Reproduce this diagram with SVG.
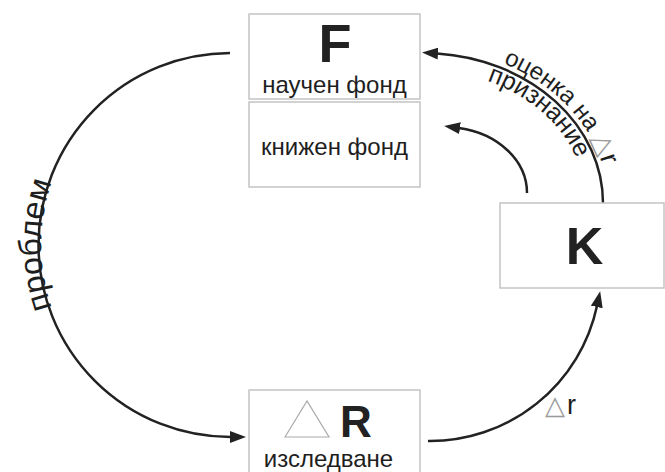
<svg xmlns="http://www.w3.org/2000/svg" width="665" height="472" viewBox="0 0 665 472">
<defs>
<style>
.box{fill:#fff;stroke:#c4c4c4;stroke-width:1.5}
.lbl{font-family:"Liberation Sans",Arial,sans-serif;fill:#1e1e1e;font-size:24px}
.big{font-family:"Liberation Sans",Arial,sans-serif;fill:#222;font-weight:bold}
.arc{fill:none;stroke:#222;stroke-width:2.5}
.tri{font-family:"DejaVu Sans",sans-serif;fill:#9a9a9a}
</style>
<marker id="ah" markerUnits="userSpaceOnUse" viewBox="0 0 16 12" markerWidth="16" markerHeight="12" refX="1" refY="6" orient="auto">
<path d="M0,0 L16,6 L0,12 z" fill="#222"/>
</marker>
<path id="pOuter" d="M423,48 A185,155 0 0 1 608,203"/>
<path id="pInner" d="M423,70 A163,133 0 0 1 586,203"/>
<path id="pLeft" d="M230,434 A189,189 0 0 1 230,56"/>
</defs>
<rect width="665" height="472" fill="#fff"/>
<g id="connectors">
<path class="arc" d="M230,53 A192,192 0 0 0 231,437" marker-end="url(#ah)"/>
<path class="arc" d="M603,203 A180,150 0 0 0 437,53.5" marker-end="url(#ah)"/>
<path class="arc" d="M527,193 A82,66 0 0 0 459,128" marker-end="url(#ah)"/>
<path class="arc" d="M428,441 A171,171 0 0 0 597,306" marker-end="url(#ah)"/>
<text class="lbl" style="font-size:32px"><textPath href="#pLeft" startOffset="50%" text-anchor="middle">проблем</textPath></text>
<text class="lbl"><textPath href="#pOuter" startOffset="82">оценка на <tspan class="tri" style="font-size:27px">△</tspan><tspan style="font-size:27px">r</tspan></textPath></text>
<text class="lbl" style="font-size:25px"><textPath href="#pInner" startOffset="65">признание</textPath></text>
<text class="lbl" x="545" y="414" style="font-size:27px"><tspan class="tri" style="font-size:26px">△</tspan><tspan dx="2">r</tspan></text>
</g>
<g id="node-F">
<rect class="box" x="249" y="14" width="171" height="85"/>
<text class="big" x="335" y="62" text-anchor="middle" font-size="54">F</text>
<text class="lbl" x="334.5" y="93" text-anchor="middle">научен фонд</text>
</g>
<g id="node-book">
<rect class="box" x="249" y="102" width="171" height="85"/>
<text class="lbl" x="334.5" y="155" text-anchor="middle">книжен фонд</text>
</g>
<g id="node-K">
<rect class="box" x="500" y="203" width="164" height="85"/>
<text class="big" x="584.5" y="264" text-anchor="middle" font-size="52">K</text>
</g>
<g id="node-R">
<rect class="box" x="249" y="390" width="171" height="100"/>
<polygon points="285,437 307,401 329,437" fill="none" stroke="#aaa" stroke-width="1.2"/>
<text class="big" x="340" y="437" font-size="44">R</text>
<text class="lbl" x="328.5" y="467" text-anchor="middle">изследване</text>
</g>
</svg>
